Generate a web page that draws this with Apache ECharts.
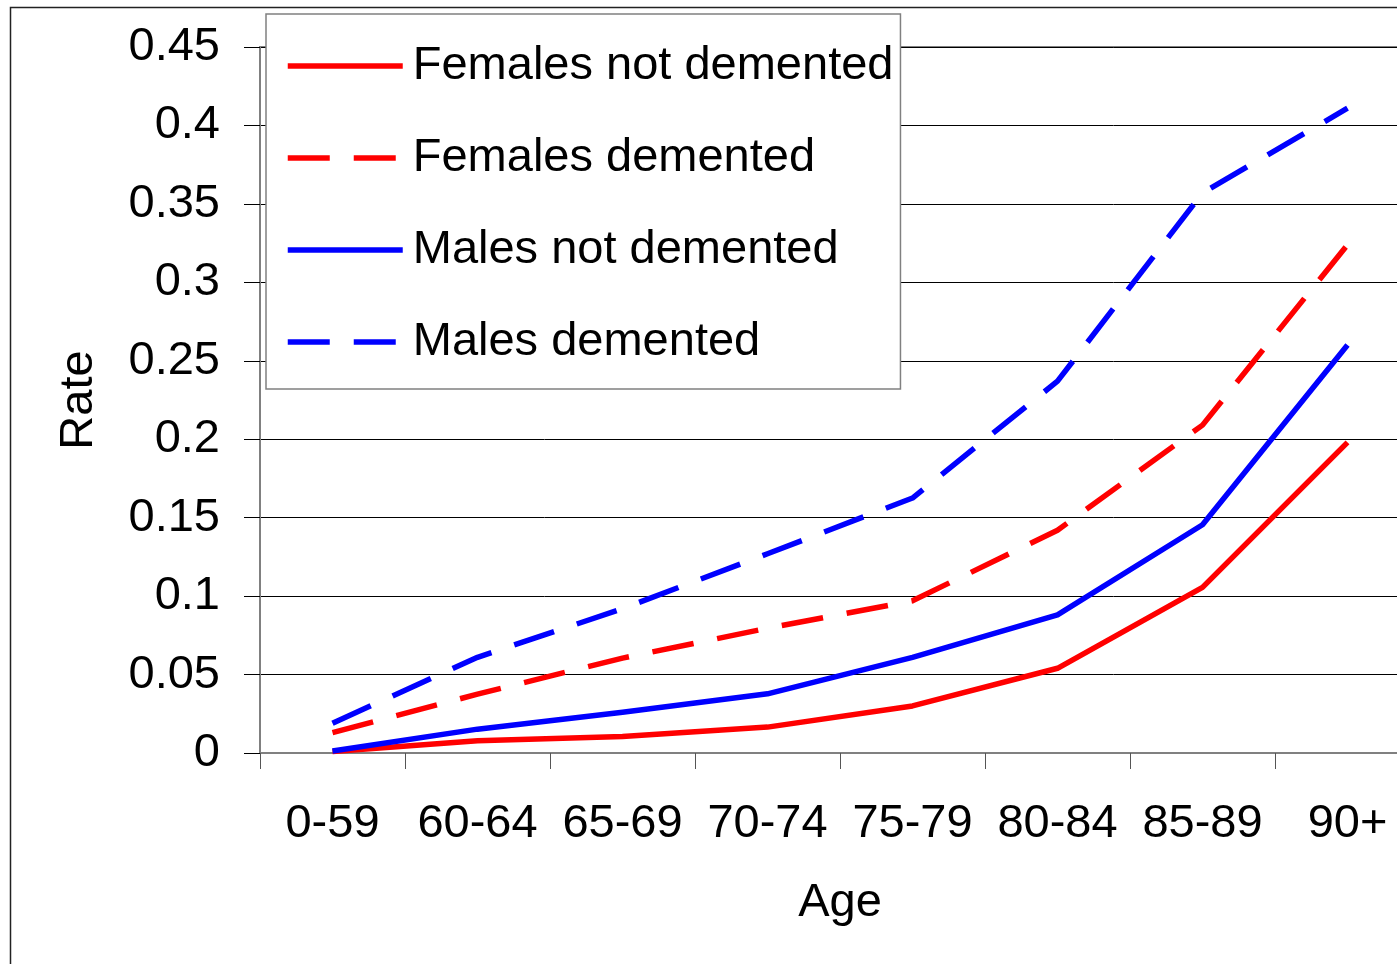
<!DOCTYPE html>
<html>
<head>
<meta charset="utf-8">
<script src="https://cdn.jsdelivr.net/npm/echarts@6/dist/echarts.min.js"></script>
<style>
html,body{margin:0;padding:0;background:#fff;}
#chart{width:1397px;height:964px;}
</style>
</head>
<body>
<div id="chart"></div>
<script>
const categories = ['0-59','60-64','65-69','70-74','75-79','80-84','85-89','90+'];
const femalesNotDemented = [0.001, 0.0078, 0.0105, 0.0165, 0.030, 0.054, 0.1056, 0.198];
const femalesDemented    = [0.013, 0.0375, 0.0605, 0.0795, 0.097, 0.142, 0.209, 0.324];
const malesNotDemented   = [0.0013, 0.0152, 0.026, 0.0377, 0.061, 0.088, 0.1455, 0.260];
const malesDemented      = [0.019, 0.061, 0.092, 0.127, 0.1625, 0.237, 0.357, 0.411];
const yTicks = [0, 0.05, 0.1, 0.15, 0.2, 0.25, 0.3, 0.35, 0.4, 0.45];

const FONT = 'Liberation Sans, Arial, sans-serif';
const RED = '#ff0000', BLUE = '#0000ff';
const DASH = [42, 24];

function mk(name, data, color, dashed) {
  return {
    name: name, type: 'line', data: data, symbol: 'none', showSymbol: false, smooth: false,
    lineStyle: { color: color, width: 5.5, type: dashed ? DASH : 'solid', cap: 'butt', join: 'round' },
    itemStyle: { color: color },
    emphasis: { disabled: true }, silent: true, animation: false
  };
}

const chart = echarts.init(document.getElementById('chart'), null, { renderer: 'canvas' });
chart.setOption({
  animation: false,
  backgroundColor: '#fff',
  textStyle: { fontFamily: FONT },
  graphic: [{
    type: 'rect', z: -10, silent: true,
    shape: { x: 10.5, y: 7.5, width: 3000, height: 3000 },
    style: { fill: null, stroke: '#222', lineWidth: 1.5 }
  }],
  grid: {
    left: 260, top: 47, width: 1160, height: 706,
    show: true, borderColor: '#808080', borderWidth: 2, backgroundColor: 'transparent',
    containLabel: false, outerBoundsMode: 'none'
  },
  legend: {
    orient: 'vertical', left: 266, top: 14,
    padding: [27, 7, 22, 19],
    backgroundColor: '#fff', borderColor: '#808080', borderWidth: 1.5, borderRadius: 0,
    itemWidth: 115, itemHeight: 20, itemGap: 42,
    itemStyle: { opacity: 0 },
    lineStyle: { width: 5.5, inactiveWidth: 5.5 },
    textStyle: { fontSize: 47, lineHeight: 50, color: '#000', fontFamily: FONT, padding: [0, 0, 0, 5] },
    data: ['Females not demented', 'Females demented', 'Males not demented', 'Males demented']
  },
  xAxis: {
    type: 'category', data: categories, boundaryGap: true,
    name: 'Age', nameLocation: 'middle', nameGap: 127,
    nameTextStyle: { fontSize: 47, color: '#000', fontFamily: FONT },
    axisLine: { show: true, lineStyle: { color: '#808080', width: 2 } },
    axisTick: { show: true, length: 16, alignWithLabel: false, lineStyle: { color: '#555', width: 1 } },
    axisLabel: { fontSize: 47, color: '#000', margin: 48, fontFamily: FONT, interval: 0 },
    splitLine: { show: false }
  },
  yAxis: {
    type: 'value', min: 0, max: 0.45, interval: 0.05,
    name: 'Rate', nameLocation: 'middle', nameGap: 157, nameRotate: 90,
    nameTextStyle: { fontSize: 47, color: '#000', fontFamily: FONT },
    axisLine: { show: true, lineStyle: { color: '#808080', width: 2 } },
    axisTick: { show: true, length: 16, inside: false, lineStyle: { color: '#000', width: 1 } },
    axisLabel: {
      fontSize: 47, color: '#000', margin: 40, fontFamily: FONT, padding: [6, 0, 0, 0],
      formatter: function (v) {
        const t = yTicks.find(function (x) { return Math.abs(x - v) < 1e-9; });
        return String(t !== undefined ? t : +v.toFixed(2));
      }
    },
    splitLine: { show: true, lineStyle: { color: '#000', width: 1 } }
  },
  series: [
    mk('Females not demented', femalesNotDemented, RED, false),
    mk('Females demented', femalesDemented, RED, true),
    mk('Males not demented', malesNotDemented, BLUE, false),
    mk('Males demented', malesDemented, BLUE, true)
  ]
});
</script>
</body>
</html>
